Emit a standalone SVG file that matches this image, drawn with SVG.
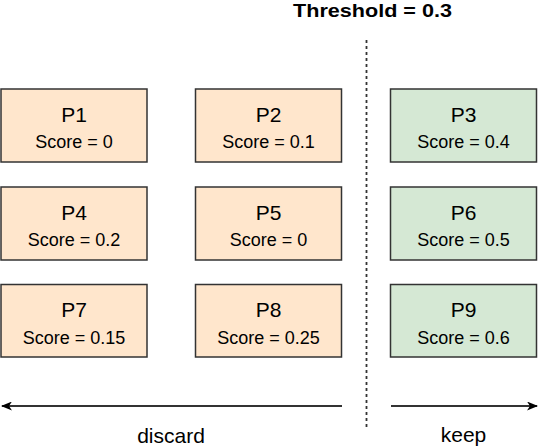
<svg xmlns="http://www.w3.org/2000/svg" width="538" height="448" viewBox="0 0 538 448">
  <defs>
    <style>
      .box { stroke: #333333; stroke-width: 1.5; }
      .discard { fill: #ffe6cc; }
      .keep { fill: #d5e8d4; }
      .t { font-family: "Liberation Sans", Arial, sans-serif; fill: #000; text-anchor: middle; }
      .name { font-size: 21px; }
      .score { font-size: 18px; }
      .lbl { font-size: 21px; }
      .title { font-size: 18.5px; font-weight: bold; }
      .conn { stroke: #333333; stroke-width: 1.8; fill: none; }
    </style>
    <marker id="arrow" viewBox="0 0 11 9" refX="10" refY="4.5" markerWidth="11" markerHeight="9" markerUnits="userSpaceOnUse" orient="auto">
      <path d="M0,0 L11,4.5 L0,9 L3,4.5 Z" fill="#000"/>
    </marker>
  </defs>
  <rect width="538" height="448" fill="#ffffff"/>

  <text class="t title" x="372.5" y="16.5" textLength="159" lengthAdjust="spacingAndGlyphs">Threshold = 0.3</text>

  <g id="connectors">
    <line class="conn" x1="366.5" y1="40" x2="366.5" y2="430" stroke-dasharray="3,3" stroke-width="1.5"/>
    <line class="conn" x1="342" y1="406" x2="2" y2="406" marker-end="url(#arrow)"/>
    <line class="conn" x1="391" y1="406" x2="537" y2="406" marker-end="url(#arrow)"/>
  </g>

  <g id="P1"><rect class="box discard" x="1" y="89" width="146" height="73"/>
    <text class="t name" x="74" y="121.5">P1</text><text class="t score" x="74" y="148">Score = 0</text></g>
  <g id="P2"><rect class="box discard" x="195.5" y="89" width="146" height="73"/>
    <text class="t name" x="268.5" y="121.5">P2</text><text class="t score" x="268.5" y="148">Score = 0.1</text></g>
  <g id="P3"><rect class="box keep" x="390.5" y="89" width="146" height="73"/>
    <text class="t name" x="463.5" y="121.5">P3</text><text class="t score" x="463.5" y="148">Score = 0.4</text></g>

  <g id="P4"><rect class="box discard" x="1" y="187" width="146" height="73"/>
    <text class="t name" x="74" y="219.5">P4</text><text class="t score" x="74" y="246">Score = 0.2</text></g>
  <g id="P5"><rect class="box discard" x="195.5" y="187" width="146" height="73"/>
    <text class="t name" x="268.5" y="219.5">P5</text><text class="t score" x="268.5" y="246">Score = 0</text></g>
  <g id="P6"><rect class="box keep" x="390.5" y="187" width="146" height="73"/>
    <text class="t name" x="463.5" y="219.5">P6</text><text class="t score" x="463.5" y="246">Score = 0.5</text></g>

  <g id="P7"><rect class="box discard" x="1" y="284.5" width="146" height="72.5"/>
    <text class="t name" x="74" y="317">P7</text><text class="t score" x="74" y="343.5">Score = 0.15</text></g>
  <g id="P8"><rect class="box discard" x="195.5" y="284.5" width="146" height="72.5"/>
    <text class="t name" x="268.5" y="317">P8</text><text class="t score" x="268.5" y="343.5">Score = 0.25</text></g>
  <g id="P9"><rect class="box keep" x="390.5" y="284.5" width="146" height="72.5"/>
    <text class="t name" x="463.5" y="317">P9</text><text class="t score" x="463.5" y="343.5">Score = 0.6</text></g>

  <text class="t lbl" x="171" y="443">discard</text>
  <text class="t lbl" x="463.5" y="442">keep</text>
</svg>
